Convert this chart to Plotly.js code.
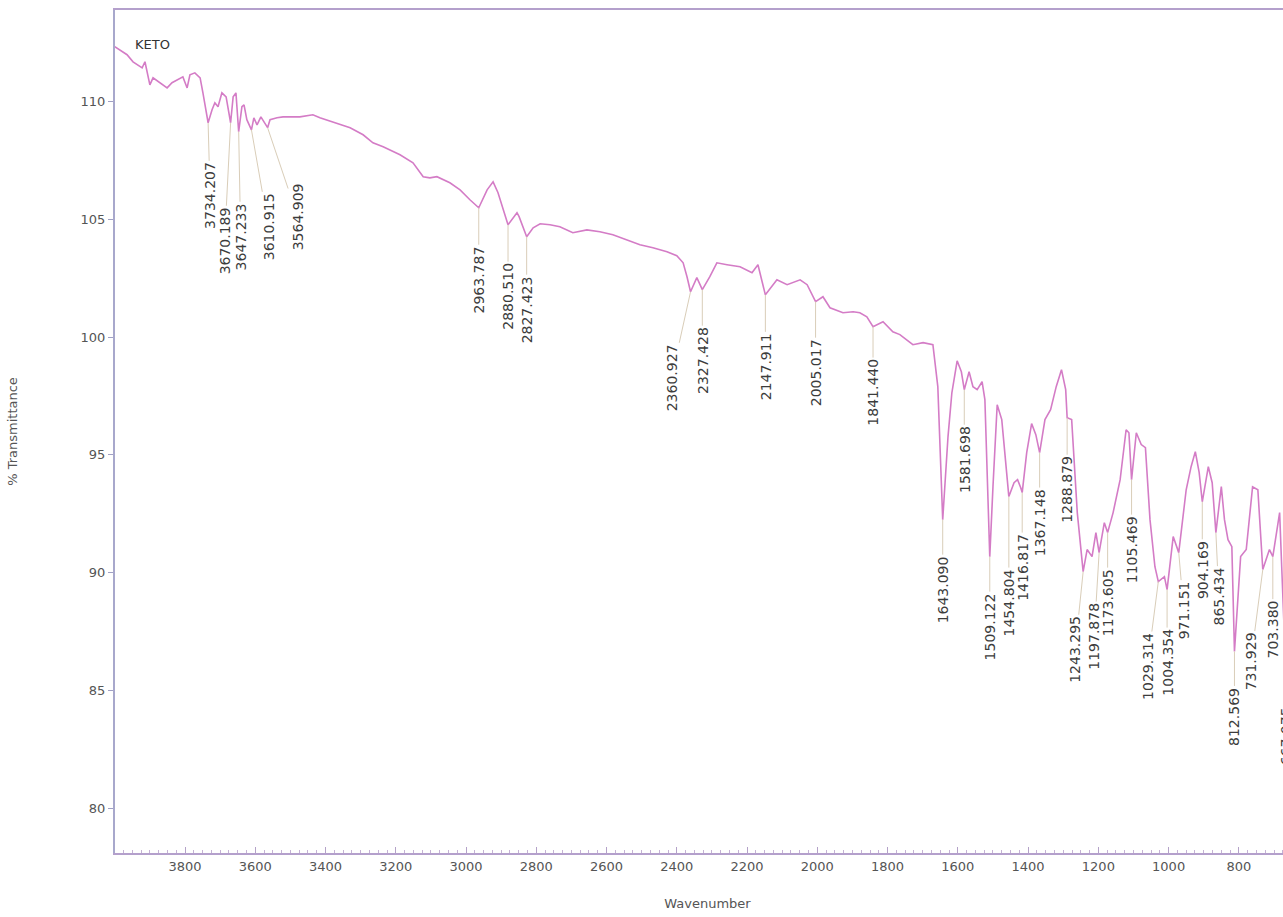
<!DOCTYPE html>
<html>
<head>
<meta charset="utf-8">
<script src="https://cdn.plot.ly/plotly-3.0.1.min.js"></script>
<style>
  html, body { margin: 0; padding: 0; overflow: hidden; background: #fff; }
  #chart { width: 1300px; height: 917px; }
</style>
</head>
<body>
<div id="chart"></div>
<script>
// ---- DATA ----
const wavenumber = [
  4000, 3965, 3948, 3922, 3914, 3908, 3900, 3891, 3865, 3851, 3837, 3820, 3806, 3794, 3786, 3772, 3757, 3749,
  3734.207, 3723, 3715, 3706, 3695, 3683, 3670.189, 3663, 3655, 3647.233, 3638, 3632, 3624, 3610.915, 3604, 3595, 3584,
  3564.909, 3558, 3538, 3521, 3473, 3436, 3416, 3379, 3330, 3293, 3265, 3236, 3188, 3151, 3122, 3103, 3083, 3046, 3017, 2989,
  2963.787, 2940, 2923, 2909, 2880.510, 2855, 2849, 2827.423, 2809, 2789, 2761, 2733, 2696, 2656, 2619, 2582, 2542, 2505,
  2468, 2428, 2400, 2382, 2371, 2360.927, 2343, 2327.428, 2306, 2286, 2257, 2220, 2186, 2169, 2147.911, 2115, 2086, 2049,
  2029, 2005.017, 1984, 1964, 1927, 1898, 1879, 1859, 1841.440, 1813, 1785, 1765, 1728, 1699, 1671, 1657, 1643.090, 1628,
  1617, 1602, 1590, 1581.698, 1568, 1557, 1545, 1531, 1523, 1516, 1509.122, 1500, 1488, 1475, 1460, 1454.804, 1440, 1430,
  1421, 1416.817, 1404, 1390, 1378, 1367.148, 1352, 1336, 1320, 1305, 1293, 1288.879, 1276, 1260, 1243.295, 1232, 1218,
  1207, 1197.878, 1183, 1173.605, 1158, 1138, 1121, 1113, 1105.469, 1092, 1078, 1066, 1053, 1039, 1029.314, 1012, 1004.354,
  987, 978, 971.151, 950, 936, 924, 913, 904.169, 887, 876, 865.434, 850, 841, 831, 820, 812.569, 795, 779, 761, 746,
  731.929, 713, 703.380, 684, 667.075, 655
];
const transmittance = [
  112.34, 112.00, 111.70, 111.44, 111.70, 111.27, 110.72, 111.02, 110.72, 110.59, 110.81, 110.93, 111.06, 110.59, 111.15, 111.23, 111.02, 110.38,
  109.11, 109.66, 109.96, 109.79, 110.38, 110.21, 109.11, 110.21, 110.38, 108.73, 109.79, 109.87, 109.24, 108.81, 109.32, 109.02, 109.36,
  108.90, 109.24, 109.32, 109.36, 109.36, 109.45, 109.32, 109.15, 108.90, 108.60, 108.26, 108.09, 107.75, 107.41, 106.82, 106.77, 106.82, 106.56, 106.26, 105.84,
  105.50, 106.26, 106.60, 106.14, 104.78, 105.29, 105.12, 104.27, 104.65, 104.82, 104.78, 104.69, 104.44, 104.56, 104.48, 104.35, 104.14, 103.93,
  103.80, 103.63, 103.46, 103.16, 102.57, 101.93, 102.53, 102.02, 102.57, 103.16, 103.08, 102.99, 102.74, 103.08, 101.80, 102.44, 102.23, 102.44,
  102.23, 101.51, 101.72, 101.25, 101.04, 101.08, 101.04, 100.87, 100.45, 100.66, 100.23, 100.11, 99.68, 99.77, 99.68, 97.90, 92.25, 95.78,
  97.64, 99.00, 98.53, 97.77, 98.53, 97.90, 97.77, 98.11, 97.35, 94.20, 90.68, 93.65, 97.13, 96.50, 94.08, 93.23, 93.82, 93.95,
  93.61, 93.40, 95.10, 96.33, 95.86, 95.10, 96.50, 96.92, 97.90, 98.62, 97.77, 96.58, 96.50, 92.55, 90.04, 90.98, 90.68,
  91.70, 90.85, 92.12, 91.70, 92.55, 93.95, 96.07, 95.94, 93.95, 95.94, 95.44, 95.31, 92.25, 90.25, 89.62, 89.83, 89.28,
  91.53, 91.10, 90.85, 93.52, 94.50, 95.14, 94.25, 93.01, 94.50, 93.82, 91.70, 93.65, 92.25, 91.40, 91.10, 86.65, 90.68, 90.98, 93.65, 93.52,
  90.13, 90.98, 90.68, 92.55, 86.00, 89.00
];
const peakWavenumbers = [
  3734.207, 3670.189, 3647.233, 3610.915, 3564.909, 2963.787, 2880.510, 2827.423, 2360.927, 2327.428, 2147.911,
  2005.017, 1841.440, 1643.090, 1581.698, 1509.122, 1454.804, 1416.817, 1367.148, 1288.879, 1243.295, 1197.878,
  1173.605, 1105.469, 1029.314, 1004.354, 971.151, 904.169, 865.434, 812.569, 731.929, 703.380, 667.075
];
const sampleName = "KETO";
const xTitle = "Wavenumber";
const yTitle = "% Transmittance";

// ---- LAYOUT of the peak labels (pixel offsets of label centre from its peak) ----
const labelOffsets = [
  [2, 73], [-6, 118], [2, 105], [17, 97], [30, 89], [0, 72], [0, 72], [0, 73], [-19, 86], [0, 71], [0, 72],
  [0, 71], [0, 66], [0, 70], [0, 70], [0, 70], [0, 106], [0, 75], [0, 70], [0, 72], [-8, 78], [-5, 84],
  [0, 70], [0, 70], [-11, 85], [0, 73], [5, 58], [0, 68], [3, 64], [0, 65], [-12, 92], [0, 73], [0, 70]
];

const annotations = peakWavenumbers.map((wn, i) => ({
  x: wn,
  y: transmittance[wavenumber.indexOf(wn)],
  xref: 'x', yref: 'y',
  text: wn.toFixed(3),
  textangle: -90,
  showarrow: true,
  arrowhead: 0,
  arrowwidth: 1,
  arrowcolor: '#d9cdb8',
  standoff: 0,
  ax: labelOffsets[i][0],
  ay: labelOffsets[i][1],
  font: { family: 'DejaVu Sans, sans-serif', size: 14, color: '#3c3c3c' }
}));
annotations.push({
  xref: 'paper', yref: 'paper',
  x: 18 / 1185, y: (853 - 45) / 843,
  xanchor: 'left', yanchor: 'middle',
  text: sampleName, showarrow: false,
  font: { family: 'DejaVu Sans, sans-serif', size: 13, color: '#333' }
});

const trace = {
  x: wavenumber,
  y: transmittance,
  type: 'scatter',
  mode: 'lines',
  line: { color: '#d47cc6', width: 1.6 },
  hoverinfo: 'x+y'
};

const layout = {
  width: 1300,
  height: 917,
  margin: { l: 115, r: 0, t: 10, b: 64 },
  paper_bgcolor: '#fff',
  plot_bgcolor: '#fff',
  showlegend: false,
  font: { family: 'DejaVu Sans, sans-serif', size: 13, color: '#555' },
  xaxis: {
    range: [3999.3, 626],
    tickmode: 'linear', tick0: 800, dtick: 200,
    ticks: 'inside', ticklen: 6, tickwidth: 1, tickcolor: '#b4a2c8',
    minor: { dtick: 25, tick0: 800, ticks: 'inside', ticklen: 3, tickcolor: '#c4b2d4', showgrid: false },
    showline: true, linecolor: '#b4a0cc', linewidth: 2, mirror: true,
    showgrid: false, zeroline: false,
    tickfont: { family: 'DejaVu Sans, sans-serif', size: 13, color: '#555' },
    title: { text: xTitle, standoff: 26, font: { family: 'DejaVu Sans, sans-serif', size: 13, color: '#555' } }
  },
  yaxis: {
    range: [78.09, 113.9],
    tickmode: 'linear', tick0: 80, dtick: 5,
    ticks: 'outside', ticklen: 5, tickwidth: 1, tickcolor: '#a0a0c4',
    showline: true, linecolor: '#a8a8cc', linewidth: 2, mirror: true,
    showgrid: false, zeroline: false,
    tickfont: { family: 'DejaVu Sans, sans-serif', size: 13, color: '#555' },
    title: { text: yTitle, standoff: 60, font: { family: 'DejaVu Sans, sans-serif', size: 13, color: '#555' } }
  },
  annotations: annotations
};

Plotly.newPlot('chart', [trace], layout, { displayModeBar: false, staticPlot: true });
</script>
</body>
</html>
